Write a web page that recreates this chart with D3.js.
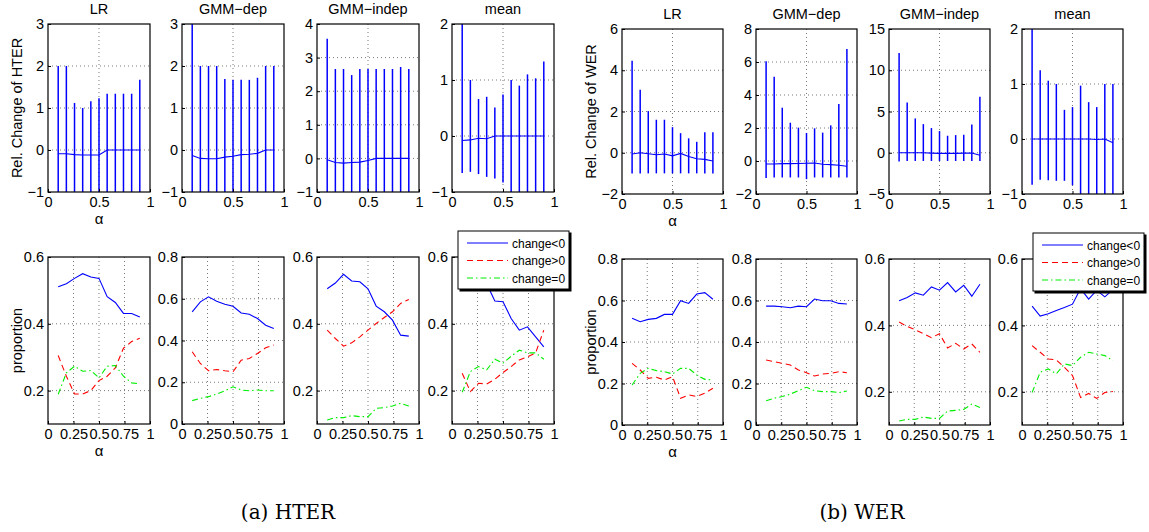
<!DOCTYPE html>
<html>
<head>
<meta charset="utf-8">
<script src="https://cdn.jsdelivr.net/npm/d3@7"></script>
<style>
  body { margin: 0; background: #fff; }
  svg text { font-family: "Liberation Sans", Arial, sans-serif; fill: #000; }
  .caption { font-family: "DejaVu Serif", serif; }
</style>
</head>
<body>
<div id="chart"></div>
<script>
// alpha values used in every panel
var alphas = [0.1, 0.18, 0.26, 0.34, 0.42, 0.5, 0.58, 0.66, 0.74, 0.82, 0.9];
var methods = ["LR", "GMM\u2212dep", "GMM\u2212indep", "mean"];
var groups = ["HTER", "WER"];
var captions = ["(a) HTER", "(b) WER"];
var seriesNames = ["change<0", "change>0", "change=0"];

// relative change, HTER (mean line, bar low, bar high) per method
var hterMean = [
  [-0.09, -0.09, -0.11, -0.12, -0.12, -0.12, 0, 0, 0, 0, 0],
  [-0.13, -0.2, -0.21, -0.21, -0.17, -0.15, -0.11, -0.1, -0.08, 0, 0],
  [-0.04, -0.12, -0.14, -0.12, -0.11, -0.06, 0, 0, 0, 0, 0],
  [-0.08, -0.07, -0.04, -0.05, 0, 0, 0, 0, 0, 0, 0]
];
var hterLow = [
  [-1, -1, -1, -1, -1, -1, -1, -1, -1, -1, -1],
  [-1, -1, -1, -1, -1, -1, -1, -1, -1, -1, -1],
  [-1, -1, -1, -1, -1, -1, -1, -1, -1, -1, -1],
  [-0.66, -0.64, -0.68, -0.73, -0.76, -0.83, -1, -1, -1, -1, -1]
];
var hterHigh = [
  [2, 2, 1.12, 1.0, 1.16, 1.23, 1.34, 1.34, 1.34, 1.34, 1.67],
  [3, 2, 2, 2, 1.69, 1.67, 1.67, 1.67, 1.72, 2, 2],
  [3.56, 2.66, 2.66, 2.48, 2.66, 2.66, 2.66, 2.66, 2.66, 2.72, 2.66],
  [2, 1.0, 0.66, 0.7, 0.51, 0.74, 1.0, 0.9, 1.1, 1.03, 1.33]
];

// relative change, WER
var werMean = [
  [-0.06, 0, -0.05, -0.1, -0.06, -0.15, -0.03, -0.18, -0.29, -0.32, -0.4],
  [-0.18, -0.18, -0.16, -0.16, -0.15, -0.14, -0.12, -0.2, -0.22, -0.26, -0.32],
  [0, 0, 0, 0, -0.04, -0.08, -0.08, -0.08, -0.04, -0.04, -0.3],
  [0, 0, 0, 0, 0, 0, 0, 0, -0.01, 0, -0.07]
];
var werLow = [
  [-1, -1, -1, -1, -1, -1, -1, -1, -1, -1, -1],
  [-1.03, -1, -1, -1, -1, -1.1, -1, -1, -1, -1, -1],
  [-1.05, -1, -1, -1, -1, -1, -1, -1, -1, -1, -1],
  [-0.83, -0.74, -0.75, -0.76, -0.76, -0.84, -1, -1, -1, -1, -1]
];
var werHigh = [
  [4.46, 3.05, 2.02, 1.6, 1.6, 1.24, 0.95, 0.7, 0.53, 1.0, 1.0],
  [6.04, 5.11, 3.23, 2.32, 2.02, 1.7, 1.98, 1.72, 2.16, 3.45, 6.79],
  [12.08, 6.1, 4.16, 3.47, 2.99, 2.63, 2.06, 2.14, 2.18, 3.43, 6.79],
  [2, 1.25, 1.06, 1.0, 0.53, 0.58, 0.97, 0.67, 0.58, 1.0, 1.0]
];

// proportions, HTER
var hterNeg = [
  [0.511, 0.52, 0.536, 0.55, 0.54, 0.536, 0.481, 0.464, 0.431, 0.431, 0.42],
  [0.537, 0.585, 0.609, 0.588, 0.574, 0.564, 0.532, 0.526, 0.505, 0.473, 0.457],
  [0.505, 0.522, 0.548, 0.528, 0.526, 0.505, 0.453, 0.436, 0.411, 0.366, 0.363],
  [0.54, 0.56, 0.57, 0.52, 0.468, 0.466, 0.416, 0.381, 0.391, 0.361, 0.331]
];
var hterPos = [
  [0.305, 0.243, 0.19, 0.19, 0.2, 0.23, 0.243, 0.268, 0.327, 0.347, 0.357],
  [0.346, 0.29, 0.255, 0.261, 0.255, 0.25, 0.306, 0.314, 0.338, 0.365, 0.378],
  [0.381, 0.356, 0.333, 0.343, 0.361, 0.381, 0.401, 0.419, 0.436, 0.461, 0.473],
  [0.252, 0.197, 0.222, 0.22, 0.234, 0.254, 0.272, 0.292, 0.301, 0.313, 0.381]
];
var hterZero = [
  [0.189, 0.253, 0.273, 0.258, 0.26, 0.238, 0.273, 0.275, 0.243, 0.223, 0.22],
  [0.112, 0.123, 0.131, 0.143, 0.159, 0.178, 0.163, 0.159, 0.163, 0.159, 0.159],
  [0.112, 0.119, 0.119, 0.125, 0.122, 0.122, 0.147, 0.149, 0.154, 0.162, 0.154],
  [0.195, 0.257, 0.272, 0.262, 0.294, 0.282, 0.303, 0.321, 0.313, 0.313, 0.294]
];

// proportions, WER
var werNeg = [
  [0.514, 0.498, 0.509, 0.514, 0.533, 0.533, 0.599, 0.586, 0.631, 0.638, 0.606],
  [0.573, 0.573, 0.57, 0.565, 0.573, 0.57, 0.607, 0.599, 0.599, 0.586, 0.583],
  [0.474, 0.484, 0.498, 0.491, 0.516, 0.506, 0.529, 0.501, 0.521, 0.488, 0.524],
  [0.458, 0.428, 0.435, 0.445, 0.454, 0.464, 0.511, 0.479, 0.506, 0.486, 0.508]
];
var werPos = [
  [0.297, 0.265, 0.225, 0.23, 0.217, 0.233, 0.129, 0.145, 0.137, 0.153, 0.177],
  [0.313, 0.305, 0.297, 0.289, 0.265, 0.252, 0.236, 0.246, 0.249, 0.257, 0.252],
  [0.41, 0.397, 0.387, 0.375, 0.363, 0.375, 0.332, 0.346, 0.329, 0.344, 0.319],
  [0.339, 0.319, 0.299, 0.296, 0.274, 0.249, 0.183, 0.195, 0.18, 0.198, 0.201]
];
var werZero = [
  [0.193, 0.249, 0.273, 0.262, 0.257, 0.246, 0.273, 0.273, 0.241, 0.22, 0.217],
  [0.117, 0.129, 0.137, 0.149, 0.165, 0.182, 0.165, 0.161, 0.161, 0.156, 0.164],
  [0.112, 0.117, 0.117, 0.124, 0.12, 0.12, 0.142, 0.144, 0.147, 0.163, 0.153],
  [0.198, 0.259, 0.269, 0.254, 0.284, 0.279, 0.304, 0.319, 0.314, 0.309, 0.294]
];

// y-axis ticks per panel
var hterChangeTicks = [[-1, 0, 1, 2, 3], [-1, 0, 1, 2, 3], [-1, 0, 1, 2, 3, 4], [-1, 0, 1, 2]];
var werChangeTicks = [[-2, 0, 2, 4, 6], [-2, 0, 2, 4, 6, 8], [-5, 0, 5, 10, 15], [-1, 0, 1, 2]];
var hterPropTicks = [[0.2, 0.4, 0.6], [0, 0.2, 0.4, 0.6, 0.8], [0.2, 0.4, 0.6], [0.2, 0.4, 0.6]];
var werPropTicks = [[0, 0.2, 0.4, 0.6, 0.8], [0, 0.2, 0.4, 0.6, 0.8], [0.2, 0.4, 0.6], [0.2, 0.4, 0.6]];
var hterPropDomain = [[0.1, 0.6], [0, 0.8], [0.1, 0.6], [0.1, 0.6]];
var werPropDomain = [[0, 0.8], [0, 0.8], [0.1, 0.6], [0.1, 0.6]];
var topXTicks = [0, 0.5, 1];
var bottomXTicks = [0, 0.25, 0.5, 0.75, 1];

var width = 1149, height = 532;
var fontSize = 14.5;

var svg = d3.select("#chart")
  .append("svg")
  .attr("width", width)
  .attr("height", height);

var lineStyles = [
  { color: "#0000ff", dash: null },
  { color: "#ff0000", dash: "6,4" },
  { color: "#00ee00", dash: "6,3,1.5,3" }
];

// panel positions (left edges) and row boxes for each group
var layout = [
  { lefts: [48, 182, 317, 452], w: 102, top: [24, 192], bottom: [257, 424] },
  { lefts: [622, 756, 889, 1022], w: 101, top: [29, 194], bottom: [259, 425] }
];

var clipId = 0;

function drawGrid(g, x, y, w, h, yTicks, xGrid) {
  // dotted grid
  g.selectAll(".gx").data(xGrid).enter().append("line")
    .attr("x1", function(d) { return x(d) }).attr("x2", function(d) { return x(d) })
    .attr("y1", 0).attr("y2", h)
    .attr("stroke", "#555").attr("stroke-width", 0.8).attr("stroke-dasharray", "1,3")
  g.selectAll(".gy").data(yTicks.filter(function(d) { return y(d) > 0.5 && y(d) < h - 0.5 })).enter().append("line")
    .attr("x1", 0).attr("x2", w)
    .attr("y1", function(d) { return y(d) }).attr("y2", function(d) { return y(d) })
    .attr("stroke", "#555").attr("stroke-width", 0.8).attr("stroke-dasharray", "1,3")
}

function drawAxes(g, x, y, w, h, xTicks, yTicks) {
  var fmt = function(d) { return d3.format("")(d) }
  var xAxis = d3.axisBottom(x).tickValues(xTicks).tickSize(-3).tickPadding(5).tickFormat(fmt)
  var ax = g.append("g").attr("transform", "translate(0," + h + ")").call(xAxis)
  var yAxis = d3.axisLeft(y).tickValues(yTicks).tickSize(-3).tickPadding(4).tickFormat(fmt)
  var ay = g.append("g").call(yAxis)
  ;[ax, ay].forEach(function(a) {
    a.select(".domain").remove()
    a.selectAll("text").attr("font-size", fontSize).attr("font-family", "Liberation Sans, Arial, sans-serif").attr("fill", "#000")
    a.selectAll(".tick line").attr("stroke", "#000")
  })
  // box
  g.append("rect").attr("width", w).attr("height", h)
    .attr("fill", "none").attr("stroke", "#000").attr("stroke-width", 1.2)
}

function addClip(g, w, h) {
  clipId++
  g.append("clipPath").attr("id", "clip" + clipId)
    .append("rect").attr("width", w).attr("height", h)
  return "url(#clip" + clipId + ")"
}

groups.forEach(function(grp, gi) {
  var L = layout[gi];
  var meanArr = gi === 0 ? hterMean : werMean;
  var lowArr = gi === 0 ? hterLow : werLow;
  var highArr = gi === 0 ? hterHigh : werHigh;
  var changeTicks = gi === 0 ? hterChangeTicks : werChangeTicks;
  var propTicks = gi === 0 ? hterPropTicks : werPropTicks;
  var propDomain = gi === 0 ? hterPropDomain : werPropDomain;
  var props = gi === 0 ? [hterNeg, hterPos, hterZero] : [werNeg, werPos, werZero];

  methods.forEach(function(m, mi) {
    // top row: relative change with error bars
    var h = L.top[1] - L.top[0];
    var g = svg.append("g").attr("transform", "translate(" + L.lefts[mi] + "," + L.top[0] + ")");
    var x = d3.scaleLinear().domain([0, 1]).range([0, L.w]);
    var yt = changeTicks[mi];
    var y = d3.scaleLinear().domain([yt[0], yt[yt.length - 1]]).range([h, 0]);
    drawGrid(g, x, y, L.w, h, yt, [0.5]);
    var clip = addClip(g, L.w, h);
    var pg = g.append("g").attr("clip-path", clip);
    pg.selectAll(".bar").data(alphas).enter().append("line")
      .attr("x1", function(d) { return x(d) }).attr("x2", function(d) { return x(d) })
      .attr("y1", function(d, i) { return y(lowArr[mi][i]) })
      .attr("y2", function(d, i) { return y(highArr[mi][i]) })
      .attr("stroke", "#0000ff").attr("stroke-width", 1.5)
    pg.append("path")
      .datum(alphas)
      .attr("d", d3.line().x(function(d) { return x(d) }).y(function(d, i) { return y(meanArr[mi][i]) }))
      .attr("fill", "none").attr("stroke", "#0000ff").attr("stroke-width", 1.1)
    drawAxes(g, x, y, L.w, h, topXTicks, yt);
    g.append("text").attr("x", L.w / 2).attr("y", -10).attr("text-anchor", "middle")
      .attr("font-size", fontSize).text(m)

    // bottom row: proportions
    var h2 = L.bottom[1] - L.bottom[0];
    var g2 = svg.append("g").attr("transform", "translate(" + L.lefts[mi] + "," + L.bottom[0] + ")");
    var y2 = d3.scaleLinear().domain(propDomain[mi]).range([h2, 0]);
    drawGrid(g2, x, y2, L.w, h2, propTicks[mi], [0.25, 0.5, 0.75]);
    var clip2 = addClip(g2, L.w, h2);
    var pg2 = g2.append("g").attr("clip-path", clip2);
    props.forEach(function(arr, si) {
      pg2.append("path")
        .datum(alphas)
        .attr("d", d3.line().x(function(d) { return x(d) }).y(function(d, i) { return y2(arr[mi][i]) }))
        .attr("fill", "none").attr("stroke", lineStyles[si].color).attr("stroke-width", 1.1)
        .attr("stroke-dasharray", lineStyles[si].dash)
    })
    drawAxes(g2, x, y2, L.w, h2, bottomXTicks, propTicks[mi]);
  });

  // axis labels
  var cyTop = (L.top[0] + L.top[1]) / 2;
  var cyBot = (L.bottom[0] + L.bottom[1]) / 2;
  var lblX = L.lefts[0] - 26;
  svg.append("text").attr("transform", "translate(" + lblX + "," + cyTop + ") rotate(-90)")
    .attr("text-anchor", "middle").attr("font-size", fontSize).text("Rel. Change of " + grp)
  svg.append("text").attr("transform", "translate(" + lblX + "," + cyBot + ") rotate(-90)")
    .attr("text-anchor", "middle").attr("font-size", fontSize).text("proportion")
  svg.append("text").attr("x", L.lefts[0] + L.w / 2).attr("y", L.top[1] + 32)
    .attr("text-anchor", "middle").attr("font-size", 15).text("\u03b1")
  svg.append("text").attr("x", L.lefts[0] + L.w / 2).attr("y", L.bottom[1] + 32)
    .attr("text-anchor", "middle").attr("font-size", 15).text("\u03b1")

  // legend on the "mean" proportion panel
  var lx = L.lefts[3] + 6 + gi * 5, ly = L.bottom[0] - 26;
  var lg = svg.append("g").attr("transform", "translate(" + lx + "," + ly + ")");
  lg.append("rect").attr("x", 1.5).attr("y", 1.5).attr("width", 112).attr("height", 59).attr("fill", "#000")
  lg.append("rect").attr("width", 111).attr("height", 58).attr("fill", "#fff").attr("stroke", "#000").attr("stroke-width", 1)
  seriesNames.forEach(function(s, si) {
    var ry = 12 + si * 17.5;
    lg.append("line").attr("x1", 9).attr("x2", 50).attr("y1", ry).attr("y2", ry)
      .attr("stroke", lineStyles[si].color).attr("stroke-width", 1.1)
      .attr("stroke-dasharray", lineStyles[si].dash)
    lg.append("text").attr("x", 54).attr("y", ry + 4.5).attr("font-size", 12).text(s)
  })

  // caption
  var capX = gi === 0 ? 288 : 862;
  svg.append("text").attr("class", "caption").attr("x", capX).attr("y", 519)
    .attr("text-anchor", "middle").attr("font-size", 20).text(captions[gi])
});
</script>
</body>
</html>
